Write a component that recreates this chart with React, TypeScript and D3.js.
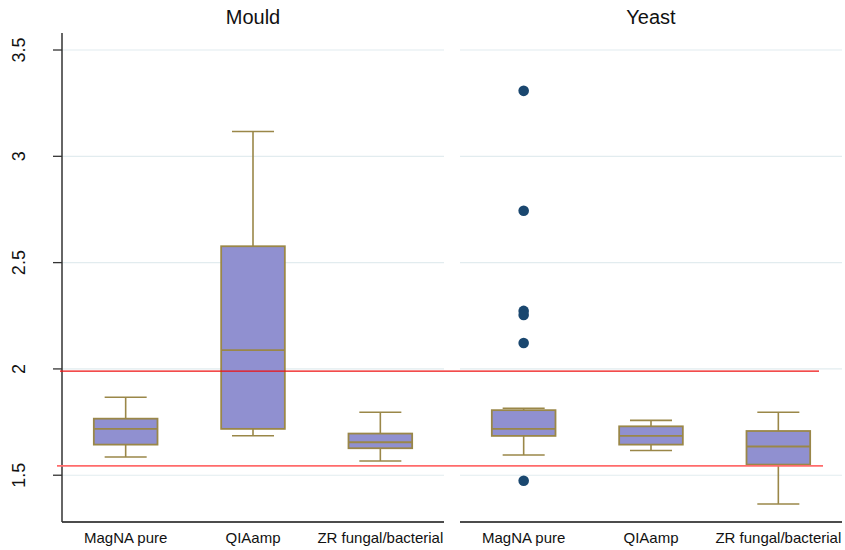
import * as d3 from 'd3';
import React, { useEffect, useRef } from 'react';

// methods on the x axis, one panel per organism
const methods = ['MagNA pure', 'QIAamp', 'ZR fungal/bacterial'];
const panels = ['Mould', 'Yeast'];

// box stats: [lowerWhisker, q1, median, q3, upperWhisker]
const mouldStats = [
  [1.586, 1.644, 1.718, 1.766, 1.867],
  [1.686, 1.718, 2.088, 2.577, 3.117],
  [1.567, 1.627, 1.655, 1.696, 1.796],
];
const yeastStats = [
  [1.595, 1.685, 1.718, 1.806, 1.815],
  [1.616, 1.644, 1.685, 1.73, 1.758],
  [1.365, 1.55, 1.635, 1.708, 1.796],
];

// outside values (only MagNA pure in yeast has them)
const mouldOutliers = [[], [], []];
const yeastOutliers = [[3.308, 2.744, 2.273, 2.254, 2.122, 1.474], [], []];

const yTicks = [1.5, 2, 2.5, 3, 3.5];
const refLines = [1.99, 1.544];

export default function App() {
  const ref = useRef(null);

  useEffect(() => {
    const width = 845, height = 550;
    const top = 33, bottom = 522;
    const panelX = [[62, 444], [460, 842]];

    const root = d3.select(ref.current);
    root.selectAll('*').remove();
    const svg = root.append('svg')
      .attr('width', width)
      .attr('height', height)
      .style('display', 'block')
      .style('font-family', 'Arial, "Liberation Sans", sans-serif');

    svg.append('rect').attr('width', width).attr('height', height).attr('fill', '#fff');

    const y = d3.scaleLinear().domain([1.28, 3.58]).range([bottom, top]);

    const stats = [mouldStats, yeastStats];
    const outliers = [mouldOutliers, yeastOutliers];

    panels.forEach((name, p) => {
      const [x0, x1] = panelX[p];
      const x = d3.scaleBand().domain(methods).range([x0, x1]).padding(0);
      const g = svg.append('g');

      // gridlines
      g.selectAll('.grid')
        .data(yTicks)
        .enter()
        .append('line')
        .attr('x1', x0).attr('x2', x1)
        .attr('y1', d => y(d)).attr('y2', d => y(d))
        .attr('stroke', '#e2ecef')
        .attr('stroke-width', 1.2);

      // title
      g.append('text')
        .attr('x', (x0 + x1) / 2)
        .attr('y', 24)
        .attr('text-anchor', 'middle')
        .attr('font-size', 20)
        .attr('fill', '#111')
        .text(name);

      // x axis
      g.append('line')
        .attr('x1', x0).attr('x2', x1)
        .attr('y1', bottom).attr('y2', bottom)
        .attr('stroke', '#111').attr('stroke-width', 1.4);
      g.selectAll('.xlab')
        .data(methods)
        .enter()
        .append('text')
        .attr('x', d => x(d) + x.bandwidth() / 2)
        .attr('y', 543)
        .attr('text-anchor', 'middle')
        .attr('font-size', 15)
        .attr('fill', '#111')
        .text(d => d);

      // boxes
      const boxW = x.bandwidth() * 0.5;
      const capW = x.bandwidth() * 0.33;
      methods.forEach((m, i) => {
        const [lo, q1, med, q3, hi] = stats[p][i];
        const cx = x(m) + x.bandwidth() / 2;
        const col = '#9a8748';
        const b = g.append('g');
        b.append('line').attr('x1', cx).attr('x2', cx).attr('y1', y(hi)).attr('y2', y(q3))
          .attr('stroke', col).attr('stroke-width', 1.6);
        b.append('line').attr('x1', cx).attr('x2', cx).attr('y1', y(q1)).attr('y2', y(lo))
          .attr('stroke', col).attr('stroke-width', 1.6);
        b.append('line').attr('x1', cx - capW / 2).attr('x2', cx + capW / 2).attr('y1', y(hi)).attr('y2', y(hi))
          .attr('stroke', col).attr('stroke-width', 1.6);
        b.append('line').attr('x1', cx - capW / 2).attr('x2', cx + capW / 2).attr('y1', y(lo)).attr('y2', y(lo))
          .attr('stroke', col).attr('stroke-width', 1.6);
        b.append('rect')
          .attr('x', cx - boxW / 2).attr('width', boxW)
          .attr('y', y(q3)).attr('height', y(q1) - y(q3))
          .attr('fill', '#9090d0')
          .attr('stroke', col).attr('stroke-width', 1.8);
        b.append('line').attr('x1', cx - boxW / 2).attr('x2', cx + boxW / 2).attr('y1', y(med)).attr('y2', y(med))
          .attr('stroke', col).attr('stroke-width', 1.8);
        b.selectAll('circle')
          .data(outliers[p][i])
          .enter()
          .append('circle')
          .attr('cx', cx).attr('cy', d => y(d)).attr('r', 5.3)
          .attr('fill', '#1a476f');
      });
    });

    // y axis on the left panel only
    const ax = svg.append('g');
    ax.append('line')
      .attr('x1', 62).attr('x2', 62).attr('y1', top).attr('y2', bottom)
      .attr('stroke', '#333').attr('stroke-width', 1.5);
    ax.selectAll('.tick')
      .data(yTicks)
      .enter()
      .append('line')
      .attr('x1', 53).attr('x2', 62)
      .attr('y1', d => y(d)).attr('y2', d => y(d))
      .attr('stroke', '#333').attr('stroke-width', 1.3);
    ax.selectAll('.tlab')
      .data(yTicks)
      .enter()
      .append('text')
      .attr('transform', d => 'translate(25,' + y(d) + ') rotate(-90)')
      .attr('text-anchor', 'middle')
      .attr('font-size', 18)
      .attr('fill', '#111')
      .text(d => d);

    // reference lines across both panels
    svg.append('line')
      .attr('x1', 60).attr('x2', 819)
      .attr('y1', y(refLines[0])).attr('y2', y(refLines[0]))
      .attr('stroke', '#ee1111').attr('stroke-width', 1.2);
    svg.append('line')
      .attr('x1', 57).attr('x2', 823)
      .attr('y1', y(refLines[1])).attr('y2', y(refLines[1]))
      .attr('stroke', '#ff6b6b').attr('stroke-width', 1.8);
  }, []);

  return <div ref={ref} style={{ position: 'absolute', left: 0, top: 0 }}></div>;
}
